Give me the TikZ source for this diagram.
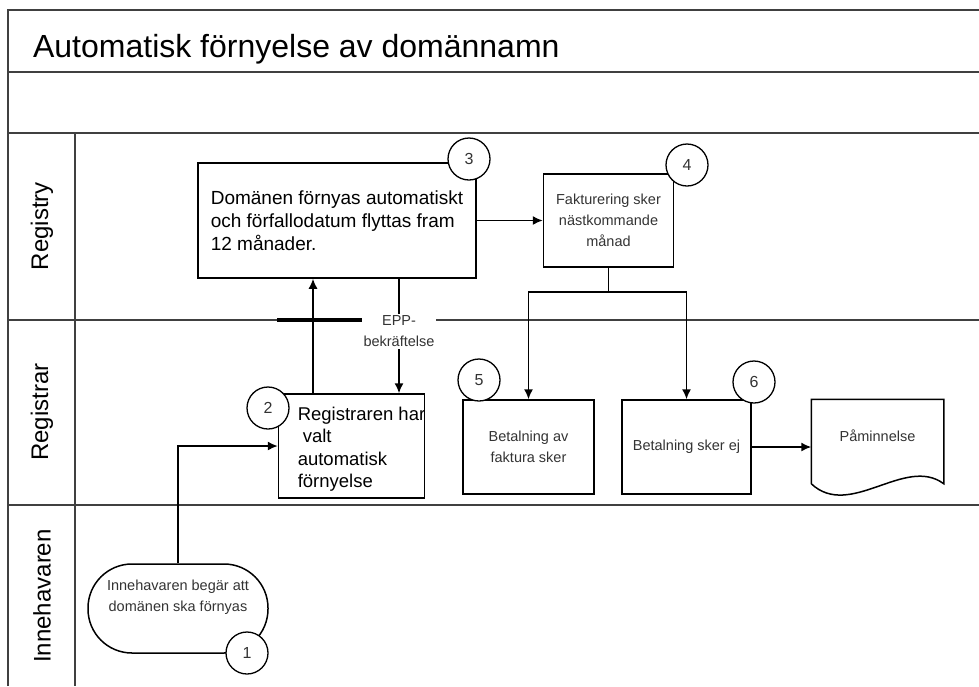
\documentclass[tikz,border=0pt]{standalone}
\usepackage{fontspec}
\setmainfont{Liberation Sans}
\usetikzlibrary{positioning,shapes,arrows.meta}

\begin{document}
\begin{tikzpicture}[
	x=1pt,y=-1pt,line width=1.5pt,
	lane/.style={line width=2.5pt,draw=black!75},
	flow/.style={-{Latex[length=10pt,width=9pt]}},
	mynode/.style={draw,rectangle,inner sep=0pt},
	bigtext/.style={font=\fontsize{19}{23}\selectfont,align=left},
	smalltext/.style={font=\fontsize{14.5}{21}\selectfont,align=center,text=black!80},
	lanename/.style={rotate=90,font=\fontsize{24}{28}\selectfont},
	stepnum/.style={draw,circle,line width=1.3pt,fill=white,minimum size=42pt,inner sep=0pt,font=\fontsize{16}{16}\selectfont,text=black!80},
	terminal/.style={draw,rectangle,rounded corners=44pt,minimum width=180pt,minimum height=89pt}
	]
	\useasboundingbox (0,0) rectangle (979,686);
	\draw[lane] (8,686) -- (8,10) -- (979,10);
	\draw[lane] (8,72) -- (979,72);
	\draw[lane] (8,133) -- (979,133);
	\draw[lane] (8,320) -- (979,320);
	\draw[lane] (8,505) -- (979,505);
	\draw[lane] (75,133) -- (75,686);
	\draw[lane,line width=3.5pt,draw=black] (277,320) -- (363,320);
	\node[anchor=base west,font=\fontsize{32}{38}\selectfont] (title) at (29,57) {Automatisk förnyelse av domännamn};
	\node[lanename] (registry) at (42,226) {Registry};
	\node[lanename] (registrar) at (42,412) {Registrar};
	\node[lanename] (holder) at (42,596) {Innehavaren};
	\node[mynode,bigtext,minimum width=278pt,minimum height=115pt] (renewal) at (337,220.5)
		{Domänen förnyas automatiskt\\och förfallodatum flyttas fram\\12 månader.};
	\node[mynode,smalltext,minimum width=130pt,minimum height=93pt] (invoicing) at (608.5,220.5)
		{Fakturering sker\\nästkommande\\månad};
	\node[mynode,minimum width=146pt,minimum height=104pt] (autorenew) at (351.5,446) {};
	\node[bigtext,font=\fontsize{18.5}{22.5}\selectfont,anchor=west,inner sep=0pt] (autorenewtext) at (297,449)
		{Registraren har\\\hspace{5pt}valt\\automatisk\\förnyelse};
	\node[mynode,smalltext,minimum width=131pt,minimum height=94pt] (payment) at (528.5,447) {Betalning av\\faktura sker};
	\node[mynode,smalltext,minimum width=129pt,minimum height=94pt] (nopayment) at (686.5,447) {Betalning sker ej};
	\node[minimum width=131pt,minimum height=83pt,inner sep=0pt] (reminder) at (877.5,441.5) {};
	\draw (reminder.south west) -- (reminder.north west) -- (reminder.north east) -- (reminder.south east)
		.. controls (905,455) and (850,520) .. (reminder.south west);
	\node[smalltext] (remindertext) at (877.5,436) {Påminnelse};
	\node[terminal] (request) at (178,608.5) {};
	\node[smalltext] (requesttext) at (178,597.5) {Innehavaren begär att\\domänen ska förnyas};
	% connectors
	\coordinate (upline) at (313,0);
	\coordinate (eppline) at (399,0);
	\draw[flow] (request.north) |- (autorenew.west);
	\draw[flow] (autorenew.north -| upline) -- (renewal.south -| upline);
	\draw[flow] (renewal.south -| eppline) -- (autorenew.north -| eppline)
		node[pos=0.46,smalltext,fill=white,inner sep=2pt] (epp) {EPP-\\bekräftelse};
	\path[flow] (renewal) edge (invoicing);
	\draw (invoicing.south) -- ++(0,24) coordinate (split);
	\draw[flow] (split) -| (payment.north);
	\draw[flow] (split) -| (nopayment.north);
	\path[flow] (nopayment.east) edge (nopayment.east -| reminder.west);
	% step numbers
	\node[stepnum] (one) at (247,653) {1};
	\node[stepnum] (two) at (268,408) {2};
	\node[stepnum] (three) at (469,159) {3};
	\node[stepnum] (four) at (687,165) {4};
	\node[stepnum] (five) at (479,380) {5};
	\node[stepnum] (six) at (754,382) {6};
\end{tikzpicture}
\end{document}
